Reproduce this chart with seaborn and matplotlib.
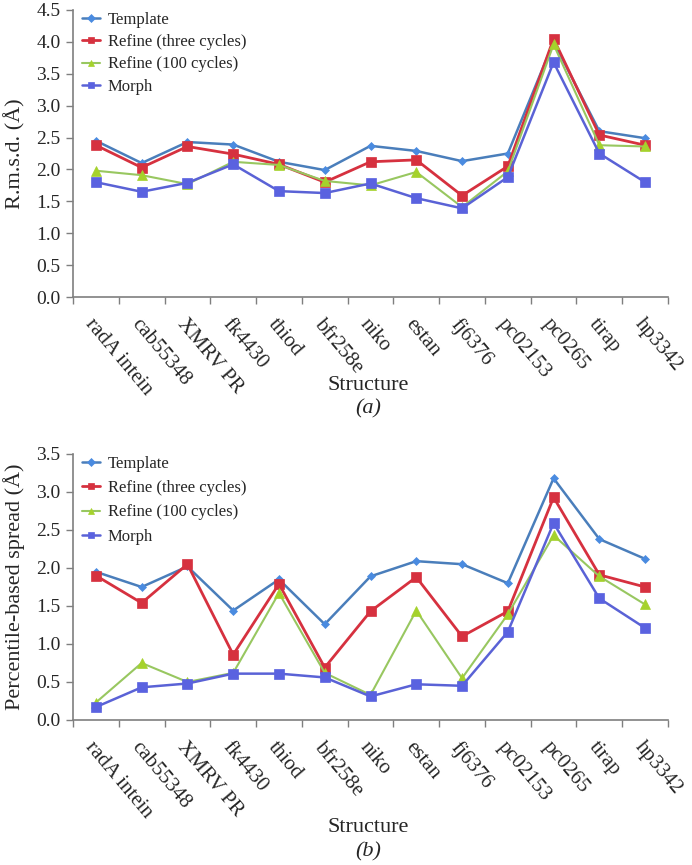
import matplotlib
matplotlib.use("Agg")
import matplotlib.pyplot as plt
import numpy as np
import pandas as pd
import seaborn as sns
from matplotlib.ticker import FixedLocator, MultipleLocator

structures = ["radA intein", "cab55348", "XMRV PR", "fk4430", "thiod", "bfr258e",
              "niko", "estan", "fj6376", "pc02153", "pc0265", "tirap", "hp3342"]
series_names = ["Template", "Refine (three cycles)", "Refine (100 cycles)", "Morph"]

# panel (a): r.m.s.d.
rmsd_template = [2.45, 2.10, 2.43, 2.39, 2.12, 1.99, 2.37, 2.29, 2.13, 2.25, 4.00, 2.60, 2.49]
rmsd_refine3 = [2.38, 2.03, 2.36, 2.24, 2.08, 1.80, 2.12, 2.15, 1.59, 2.05, 4.05, 2.54, 2.38]
rmsd_refine100 = [1.98, 1.91, 1.77, 2.12, 2.07, 1.82, 1.75, 1.96, 1.41, 1.97, 3.96, 2.38, 2.36]
rmsd_morph = [1.80, 1.65, 1.79, 2.08, 1.66, 1.63, 1.78, 1.55, 1.39, 1.88, 3.68, 2.25, 1.80]

# panel (b): percentile-based spread
spread_template = [1.95, 1.75, 2.02, 1.44, 1.85, 1.26, 1.89, 2.09, 2.05, 1.80, 3.18, 2.38, 2.12]
spread_refine3 = [1.90, 1.54, 2.05, 0.86, 1.79, 0.69, 1.43, 1.88, 1.10, 1.43, 2.93, 1.91, 1.75]
spread_refine100 = [0.23, 0.75, 0.50, 0.62, 1.67, 0.62, 0.33, 1.44, 0.55, 1.39, 2.43, 1.89, 1.52]
spread_morph = [0.17, 0.43, 0.48, 0.61, 0.61, 0.56, 0.31, 0.47, 0.45, 1.16, 2.59, 1.60, 1.21]

LINE_COLORS = ["#4a7ebb", "#d6313f", "#98c760", "#5a62d6"]
MARKER_COLORS = ["#4a8be0", "#d6313f", "#a5d22c", "#5a62e0"]
MARKERS = ["D", "s", "^", "s"]
MSIZES = [4.5, 6.5, 6.5, 6.5]
LWIDTHS = [1.8, 2.0, 1.5, 1.8]

sns.set_theme(style="white")
plt.rcParams["font.family"] = ["Liberation Serif", "DejaVu Serif"]

fig = plt.figure(figsize=(6.92, 8.65), dpi=100)
ax_a = fig.add_axes([73 / 692, 1 - 297 / 865, 595 / 692, 287 / 865])
ax_b = fig.add_axes([73 / 692, 1 - 720 / 865, 595 / 692, 266 / 865])

x = np.arange(len(structures))


def draw_panel(ax, values, ymax, ylabel, tag, label_y, tag_y, leg_spacing):
    df = pd.DataFrame({"x": np.tile(x, 4),
                       "value": np.concatenate(values),
                       "series": np.repeat(series_names, len(structures))})
    for i, name in enumerate(series_names):
        sub = df[df["series"] == name]
        sns.lineplot(data=sub, x="x", y="value", ax=ax, color=LINE_COLORS[i],
                     marker=MARKERS[i], markersize=MSIZES[i], linewidth=LWIDTHS[i],
                     markerfacecolor=MARKER_COLORS[i], markeredgecolor=MARKER_COLORS[i],
                     markeredgewidth=0.5, label=name)
    ax.set_xlim(-0.5, len(structures) - 0.5)
    ax.yaxis.set_major_locator(MultipleLocator(0.5))
    ticks = np.arange(0, ymax + 0.01, 0.5)
    ax.set_yticks(ticks)
    ax.set_yticklabels([f"{v:.1f}" for v in ticks], fontsize=14)
    ax.set_ylim(0, ymax)
    ax.xaxis.set_major_locator(FixedLocator(np.arange(-0.5, len(structures), 1.0)))
    ax.xaxis.set_ticklabels([])
    ax.xaxis.set_minor_locator(FixedLocator(x))
    ax.set_xticklabels(structures, minor=True, rotation=-50, ha="left",
                       rotation_mode="anchor", fontsize=15)
    ax.tick_params(axis="x", which="minor", length=0, pad=13)
    ax.tick_params(axis="both", which="major", direction="out", length=5,
                   width=1, color="#7f7f7f", bottom=True, left=True)
    ax.tick_params(axis="y", pad=4)
    for side in ["top", "right"]:
        ax.spines[side].set_visible(False)
    for side in ["left", "bottom"]:
        ax.spines[side].set_color("#7f7f7f")
        ax.spines[side].set_linewidth(1.2)
    ax.set_xlabel("")
    ax.set_ylabel(ylabel, fontsize=16, labelpad=8)
    fig.text(368 / 692, 1 - label_y / 865, "Structure", ha="center", va="center", fontsize=16)
    fig.text(368 / 692, 1 - tag_y / 865, tag, ha="center", va="center", fontsize=16,
             style="italic")
    leg = ax.legend(loc="upper left", bbox_to_anchor=(0.012, 1.0), frameon=False,
                    fontsize=12, handlelength=1.1, handletextpad=0.45,
                    labelspacing=leg_spacing, borderaxespad=0.0, borderpad=0.1)
    for line in leg.get_lines():
        line.set_markersize(4.5)


draw_panel(ax_a, [rmsd_template, rmsd_refine3, rmsd_refine100, rmsd_morph], 4.5,
           "R.m.s.d. (Å)", "(a)", 385, 409, 0.38)
draw_panel(ax_b, [spread_template, spread_refine3, spread_refine100, spread_morph], 3.5,
           "Percentile-based spread (Å)", "(b)", 828, 852, 0.5)

fig.savefig("out.png", dpi=100)
